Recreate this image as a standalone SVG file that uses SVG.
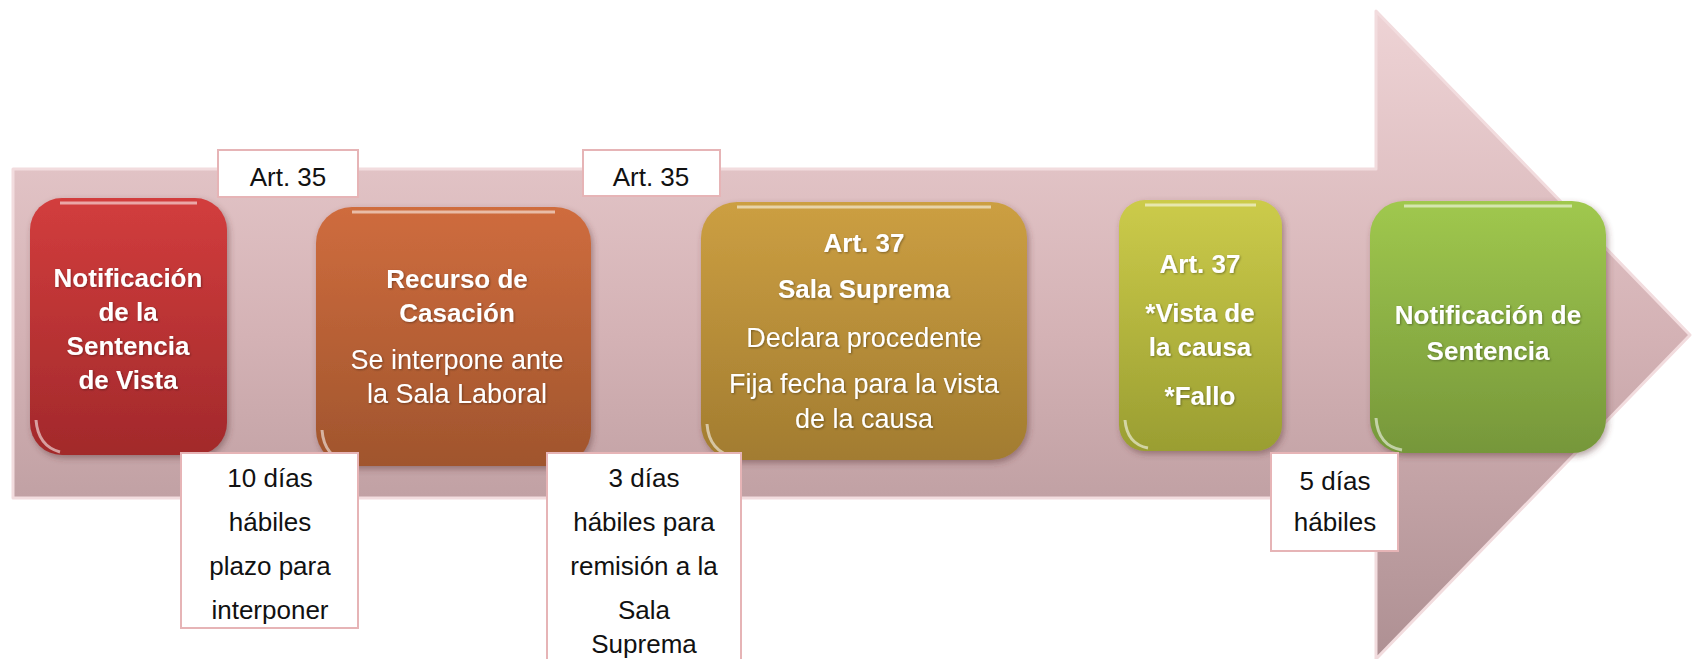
<svg xmlns="http://www.w3.org/2000/svg" width="1692" height="659" viewBox="0 0 1692 659">
<defs>
<linearGradient id="gArrow" x1="0" y1="0" x2="0" y2="1" gradientUnits="objectBoundingBox">
<stop offset="0" stop-color="#eed3d5"/><stop offset="0.5" stop-color="#d4b2b5"/><stop offset="1" stop-color="#ae9093"/>
</linearGradient>
<linearGradient id="gRed" x1="0" y1="0" x2="0" y2="1"><stop offset="0" stop-color="#d23d3d"/><stop offset="1" stop-color="#a2292b"/></linearGradient>
<linearGradient id="gOrange" x1="0" y1="0" x2="0" y2="1"><stop offset="0" stop-color="#cf6c3e"/><stop offset="1" stop-color="#a0552d"/></linearGradient>
<linearGradient id="gGold" x1="0" y1="0" x2="0" y2="1"><stop offset="0" stop-color="#cc9f42"/><stop offset="1" stop-color="#a27c30"/></linearGradient>
<linearGradient id="gYellow" x1="0" y1="0" x2="0" y2="1"><stop offset="0" stop-color="#cccb4a"/><stop offset="1" stop-color="#9a9e32"/></linearGradient>
<linearGradient id="gGreen" x1="0" y1="0" x2="0" y2="1"><stop offset="0" stop-color="#a0c84e"/><stop offset="1" stop-color="#76973a"/></linearGradient>
<filter id="shadow" x="-10%" y="-10%" width="125%" height="125%">
<feDropShadow dx="2" dy="3" stdDeviation="3" flood-color="#5a3030" flood-opacity="0.45"/>
</filter>
<filter id="tshadow" x="-10%" y="-30%" width="120%" height="160%">
<feDropShadow dx="1" dy="1" stdDeviation="0.8" flood-color="#000" flood-opacity="0.35"/>
</filter>
</defs>
<style>
.box{filter:url(#shadow);}
.hl{fill:none;stroke:#ffffff;stroke-opacity:0.55;stroke-width:3;}
.nb{font-family:"Liberation Sans",Arial,sans-serif;font-weight:bold;font-size:26px;fill:#ffffff;text-anchor:middle;filter:url(#tshadow);}
.nr{font-family:"Liberation Sans",Arial,sans-serif;font-size:27px;fill:#ffffff;text-anchor:middle;filter:url(#tshadow);}
.lbox{fill:#ffffff;stroke:#e6b4b6;stroke-width:2;}
.lt{font-family:"Liberation Sans",Arial,sans-serif;font-size:26px;fill:#111111;text-anchor:middle;}
</style>
<rect width="1692" height="659" fill="#ffffff"/>
<g id="arrow">
<polygon points="13,169 1376,169 1376,11 1690,335 1376,659 1376,498 13,498" fill="url(#gArrow)" stroke="#f2dcde" stroke-width="3" stroke-linejoin="round"/>
</g>
<g id="connectors"></g>
<g id="node1">
<rect class="box" x="30" y="198" width="197" height="257" rx="32" fill="url(#gRed)"/>
<path class="hl" d="M60,203 H197"/>
<path class="hl" d="M36,420 Q38,446 60,452" stroke-width="4"/>
<text class="nb" x="128" y="287">Notificación</text>
<text class="nb" x="128" y="321">de la</text>
<text class="nb" x="128" y="355">Sentencia</text>
<text class="nb" x="128" y="389">de Vista</text>
</g>
<g id="node2">
<rect class="box" x="316" y="207" width="275" height="259" rx="36" fill="url(#gOrange)"/>
<path class="hl" d="M352,212 H555"/>
<path class="hl" d="M322,430 Q324,458 350,463" stroke-width="4"/>
<text class="nb" x="457" y="288">Recurso de</text>
<text class="nb" x="457" y="322">Casación</text>
<text class="nr" x="457" y="369">Se interpone ante</text>
<text class="nr" x="457" y="403">la Sala Laboral</text>
</g>
<g id="node3">
<rect class="box" x="701" y="202" width="326" height="258" rx="36" fill="url(#gGold)"/>
<path class="hl" d="M737,207 H991"/>
<path class="hl" d="M707,424 Q709,452 735,457" stroke-width="4"/>
<text class="nb" x="864" y="252">Art. 37</text>
<text class="nb" x="864" y="298">Sala Suprema</text>
<text class="nr" x="864" y="347">Declara procedente</text>
<text class="nr" x="864" y="393">Fija fecha para la vista</text>
<text class="nr" x="864" y="428">de la causa</text>
</g>
<g id="node4">
<rect class="box" x="1119" y="200" width="163" height="251" rx="26" fill="url(#gYellow)"/>
<path class="hl" d="M1145,205 H1256"/>
<path class="hl" d="M1125,420 Q1127,444 1148,448" stroke-width="4"/>
<text class="nb" x="1200" y="273">Art. 37</text>
<text class="nb" x="1200" y="322">*Vista de</text>
<text class="nb" x="1200" y="356">la causa</text>
<text class="nb" x="1200" y="405">*Fallo</text>
</g>
<g id="node5">
<rect class="box" x="1370" y="201" width="236" height="252" rx="34" fill="url(#gGreen)"/>
<path class="hl" d="M1404,206 H1572"/>
<path class="hl" d="M1376,418 Q1378,446 1402,450" stroke-width="4"/>
<text class="nb" x="1488" y="324">Notificación de</text>
<text class="nb" x="1488" y="360">Sentencia</text>
</g>
<g id="label1">
<rect class="lbox" x="218" y="150" width="140" height="47"/>
<text class="lt" x="288" y="186">Art. 35</text>
</g>
<g id="label2">
<rect class="lbox" x="583" y="150" width="137" height="46"/>
<text class="lt" x="651" y="186">Art. 35</text>
</g>
<g id="label3">
<rect class="lbox" x="181" y="453" width="177" height="175"/>
<text class="lt" x="270" y="487">10 días</text>
<text class="lt" x="270" y="531">hábiles</text>
<text class="lt" x="270" y="575">plazo para</text>
<text class="lt" x="270" y="619">interponer</text>
</g>
<g id="label4">
<rect class="lbox" x="547" y="453" width="194" height="215"/>
<text class="lt" x="644" y="487">3 días</text>
<text class="lt" x="644" y="531">hábiles para</text>
<text class="lt" x="644" y="575">remisión a la</text>
<text class="lt" x="644" y="619">Sala</text>
<text class="lt" x="644" y="653">Suprema</text>
</g>
<g id="label5">
<rect class="lbox" x="1271" y="453" width="127" height="98"/>
<text class="lt" x="1335" y="490">5 días</text>
<text class="lt" x="1335" y="531">hábiles</text>
</g>
</svg>
